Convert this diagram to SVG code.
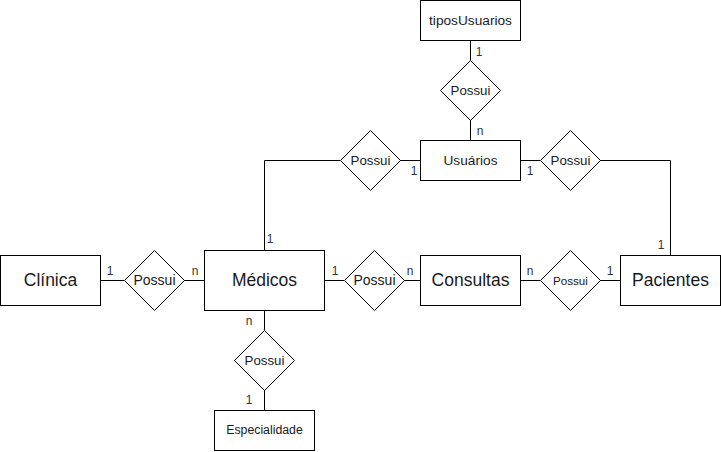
<svg xmlns="http://www.w3.org/2000/svg" width="721" height="452" viewBox="0 0 721 452">
<style>
.box{fill:#fff;stroke:#000;stroke-width:1}
.dia{fill:#fff;stroke:#000;stroke-width:1}
.edge{fill:none;stroke:#000;stroke-width:1}
text{font-family:"Liberation Sans",Arial,sans-serif;fill:#1a1a1a;text-anchor:middle;dominant-baseline:central}
.big{font-size:17.5px}
.mid{font-size:13.7px}
.pos{font-size:13.3px}
.posL{font-size:14px}
.posS{font-size:11.6px}
.esp{font-size:12.3px}
.lbl{font-size:12px;fill:#333}
</style>
<rect width="721" height="452" fill="#fff"/>
<g id="connectors">
<path class="edge" d="M470.5 40 V60 M470.5 120 V140"/>
<path class="edge" d="M400 160.5 H420 M340 160.5 H264.5 V250"/>
<path class="edge" d="M520 160.5 H540 M600 160.5 H670.5 V255"/>
<path class="edge" d="M100 280.5 H124 M184 280.5 H204"/>
<path class="edge" d="M324 280.5 H344 M404 280.5 H420"/>
<path class="edge" d="M520 280.5 H540 M600 280.5 H620"/>
<path class="edge" d="M264.5 310 V330 M264.5 390 V410"/>
<g class="lbl-group">
<text class="lbl" x="479" y="52">1</text>
<text class="lbl" x="480" y="131">n</text>
<text class="lbl" x="414" y="171">1</text>
<text class="lbl" x="530" y="171">1</text>
<text class="lbl" x="270" y="239">1</text>
<text class="lbl" x="661" y="245">1</text>
<text class="lbl" x="110" y="271">1</text>
<text class="lbl" x="195" y="271">n</text>
<text class="lbl" x="335" y="271">1</text>
<text class="lbl" x="410" y="271">n</text>
<text class="lbl" x="530" y="271">n</text>
<text class="lbl" x="610" y="271">1</text>
<text class="lbl" x="249" y="321">n</text>
<text class="lbl" x="249" y="400">1</text>
</g>
</g>
<g id="tiposUsuarios"><rect class="box" x="420.5" y="0.5" width="100" height="40"/><text class="mid" x="470.5" y="20">tiposUsuarios</text></g>
<g id="possui-tipos"><polygon class="dia" points="470.5,60.5 500.5,90.5 470.5,120.5 440.5,90.5"/><text class="pos" x="470.5" y="90">Possui</text></g>
<g id="usuarios"><rect class="box" x="420.5" y="140.5" width="100" height="40"/><text class="mid" x="470.5" y="160">Usuários</text></g>
<g id="possui-usu-med"><polygon class="dia" points="370.5,130.5 400.5,160.5 370.5,190.5 340.5,160.5"/><text class="pos" x="370.5" y="160">Possui</text></g>
<g id="possui-usu-pac"><polygon class="dia" points="570.5,130.5 600.5,160.5 570.5,190.5 540.5,160.5"/><text class="pos" x="570.5" y="160">Possui</text></g>
<g id="clinica"><rect class="box" x="0.5" y="255.5" width="100" height="50"/><text class="big" x="50.5" y="280">Clínica</text></g>
<g id="possui-cli-med"><polygon class="dia" points="154.5,250.5 184.5,280.5 154.5,310.5 124.5,280.5"/><text class="posL" x="154.5" y="280">Possui</text></g>
<g id="medicos"><rect class="box" x="204.5" y="250.5" width="120" height="60"/><text class="big" x="264.5" y="280">Médicos</text></g>
<g id="possui-med-con"><polygon class="dia" points="374.5,250.5 404.5,280.5 374.5,310.5 344.5,280.5"/><text class="posL" x="374.5" y="280">Possui</text></g>
<g id="consultas"><rect class="box" x="420.5" y="255.5" width="100" height="50"/><text class="big" x="470.5" y="280">Consultas</text></g>
<g id="possui-con-pac"><polygon class="dia" points="570.5,250.5 600.5,280.5 570.5,310.5 540.5,280.5"/><text class="posS" x="570.5" y="280">Possui</text></g>
<g id="pacientes"><rect class="box" x="620.5" y="255.5" width="100" height="50"/><text class="big" x="670.5" y="280">Pacientes</text></g>
<g id="possui-med-esp"><polygon class="dia" points="264.5,330.5 294.5,360.5 264.5,390.5 234.5,360.5"/><text class="pos" x="264.5" y="360">Possui</text></g>
<g id="especialidade"><rect class="box" x="214.5" y="410.5" width="100" height="40"/><text class="esp" x="264.5" y="430">Especialidade</text></g>
</svg>
